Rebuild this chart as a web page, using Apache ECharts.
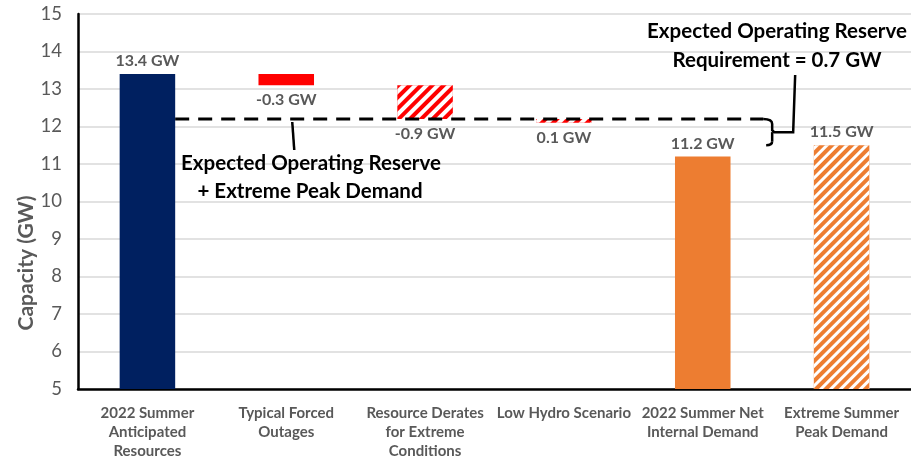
<!DOCTYPE html>
<html>
<head>
<meta charset="utf-8">
<script src="https://cdn.jsdelivr.net/npm/echarts@6/dist/echarts.min.js"></script>
<style>
  html, body { margin: 0; padding: 0; background: #fff; }
  #chart { width: 911px; height: 461px; }
</style>
</head>
<body>
<div id="chart"></div>
<script>
// Summer capacity waterfall (GW)
const categories = [
  '2022 Summer\nAnticipated\nResources',
  'Typical Forced\nOutages',
  'Resource Derates\nfor Extreme\nConditions',
  'Low Hydro Scenario',
  '2022 Summer Net\nInternal Demand',
  'Extreme Summer\nPeak Demand'
];
const anticipatedResources = 13.4;
const reductions = [-0.3, -0.9, -0.1];          // forced outages, derates, low hydro
const netInternalDemand = 11.2;
const extremePeakDemand = 11.5;
const operatingReserve = 0.7;
const barLabels = ['13.4 GW', '-0.3 GW', '-0.9 GW', '0.1 GW', '11.2 GW', '11.5 GW'];
const labelSides = ['top', 'bottom', 'bottom', 'bottom', 'top', 'top'];
const yMin = 5, yMax = 15, yStep = 1;

// waterfall: invisible base + visible segment
const baseValues = [0];
const segValues = [anticipatedResources];
let running = anticipatedResources;
reductions.forEach(function (d) {
  running += d;
  baseValues.push(+running.toFixed(2));
  segValues.push(Math.abs(d));
});
baseValues.push(0, 0);
segValues.push(netInternalDemand, extremePeakDemand);

const NAVY = '#002060', RED = '#FF0000', ORANGE = '#ED7D31', GREY = '#595959';
const FONT = 'Lato';
const hatchRed = { symbol: 'rect', symbolSize: 1, color: '#ffffff', dashArrayX: [1, 0], dashArrayY: [3.5, 4], rotation: -Math.PI / 4 };
const hatchOrange = { symbol: 'rect', symbolSize: 1, color: '#ffffff', dashArrayX: [1, 0], dashArrayY: [2.5, 4], rotation: -Math.PI / 4 };
const styles = [
  { color: NAVY },
  { color: RED },
  { color: RED, decal: hatchRed },
  { color: RED, decal: hatchRed },
  { color: ORANGE },
  { color: ORANGE, decal: hatchOrange }
];

const chart = echarts.init(document.getElementById('chart'), null, { renderer: 'canvas' });

const option = {
  animation: false,
  backgroundColor: '#ffffff',
  grid: { left: 78, right: -1, top: 14, bottom: 68 },
  xAxis: {
    type: 'category',
    data: categories,
    axisLine: { lineStyle: { color: '#000', width: 2.5 } },
    axisTick: { show: false },
    axisLabel: {
      interval: 0, margin: 15, color: GREY, fontFamily: FONT, fontWeight: 'bold',
      fontSize: 15, lineHeight: 19
    }
  },
  yAxis: {
    type: 'value', min: yMin, max: yMax, interval: yStep,
    axisLine: { show: true, lineStyle: { color: '#000', width: 2.5 } },
    axisTick: { show: false },
    splitLine: { lineStyle: { color: '#d9d9d9', width: 1.5 } },
    axisLabel: { margin: 16, color: GREY, fontFamily: FONT, fontSize: 18.5 }
  },
  series: [
    {
      type: 'bar', stack: 'w', barWidth: '40%', silent: true,
      itemStyle: { color: 'rgba(0,0,0,0)' },
      data: baseValues
    },
    {
      type: 'bar', stack: 'w', barWidth: '40%', z: 5,
      data: segValues.map(function (v, i) {
        return {
          value: v,
          itemStyle: styles[i],
          label: {
            show: true, position: labelSides[i], distance: labelSides[i] === 'top' ? 5 : 7,
            formatter: barLabels[i], color: GREY, fontFamily: FONT, fontWeight: 'bold', fontSize: 16
          }
        };
      })
    }
  ]
};
chart.setOption(option);

// annotations positioned from the chart's own scales
const px = function (i, v) { return chart.convertToPixel({ xAxisIndex: 0, yAxisIndex: 0 }, [i, v]); };
const cw = px(1, yMin)[0] - px(0, yMin)[0];
const reserveLevel = extremePeakDemand + operatingReserve;
const yLine = px(0, reserveLevel)[1];
const yPeak = px(0, extremePeakDemand)[1];
const yMid = (yLine + yPeak) / 2;
const xStart = px(0, yMin)[0] + cw * 0.2;
const xBrace = (px(4, yMin)[0] + px(5, yMin)[0]) / 2;
const xCall = px(1, yMin)[0] + 6;

const stroke = { stroke: '#000', lineWidth: 2.5, fill: null };
const textStyle = function (t, x, y) {
  return {
    type: 'text', x: x, y: y, z: 20,
    style: { text: t, fill: '#000', font: 'bold 20.5px ' + FONT, align: 'center', verticalAlign: 'middle' }
  };
};

chart.setOption({
  graphic: [
    {
      type: 'line', z: 10,
      shape: { x1: xStart, y1: yLine, x2: xBrace - 9, y2: yLine },
      style: { stroke: '#000', lineWidth: 3, lineDash: [14, 9] }
    },
    // brace spanning the operating reserve, with its leader up to the note
    {
      type: 'bezierCurve', z: 10,
      shape: { x1: xBrace - 9, y1: yLine, cpx1: xBrace, cpy1: yLine, x2: xBrace, y2: yLine + 5 },
      style: stroke
    },
    {
      type: 'polyline', z: 10,
      shape: { points: [[xBrace, yLine + 5], [xBrace, yMid - 2], [xBrace + 2, yMid], [xBrace + 21, yMid], [xBrace + 23, 75]] },
      style: stroke
    },
    {
      type: 'line', z: 10,
      shape: { x1: xBrace, y1: yMid, x2: xBrace, y2: yPeak - 4 },
      style: stroke
    },
    {
      type: 'bezierCurve', z: 10,
      shape: { x1: xBrace, y1: yPeak - 4, cpx1: xBrace, cpy1: yPeak, x2: xBrace - 6, y2: yPeak },
      style: stroke
    },
    {
      type: 'line', z: 10,
      shape: { x1: xCall, y1: yLine + 3, x2: xCall + 2, y2: yLine + 31 },
      style: stroke
    },
    textStyle('Expected Operating Reserve', 777, 31),
    textStyle('Requirement = 0.7 GW', 777, 60),
    textStyle('Expected Operating Reserve', 311, 163),
    textStyle('+ Extreme Peak Demand', 310, 191),
    {
      type: 'text', x: 26, y: 263, rotation: Math.PI / 2, z: 20,
      style: { text: 'Capacity (GW)', fill: GREY, font: 'bold 21px ' + FONT, align: 'center', verticalAlign: 'middle' }
    }
  ]
});
</script>
</body>
</html>
